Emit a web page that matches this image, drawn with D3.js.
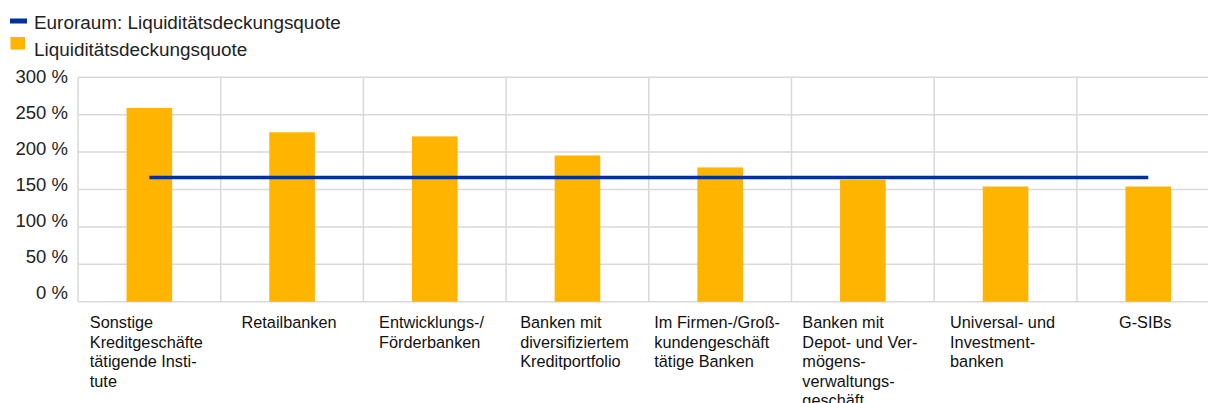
<!DOCTYPE html>
<meta charset="utf-8">
<script src="https://d3js.org/d3.v7.min.js"></script>
<style>
  body { margin: 0; background: #fff; }
  svg { display: block; font-family: "Liberation Sans", Arial, sans-serif; }
</style>
<body>
<div id="chart"></div>
<script>
// chart values
var categories = [
  "Sonstige\nKreditgeschäfte\ntätigende Insti-\ntute",
  "Retailbanken",
  "Entwicklungs-/\nFörderbanken",
  "Banken mit\ndiversifiziertem\nKreditportfolio",
  "Im Firmen-/Groß-\nkundengeschäft\ntätige Banken",
  "Banken mit\nDepot- und Ver-\nmögens-\nverwaltungs-\ngeschäft",
  "Universal- und\nInvestment-\nbanken",
  "G-SIBs"
];
var lcrValues = [259, 226.5, 221, 195.5, 179.5, 163, 154, 154];
var euroAreaValue = 166;
var yTicks = [0, 50, 100, 150, 200, 250, 300];
var legendLabels = ["Euroraum: Liquiditätsdeckungsquote", "Liquiditätsdeckungsquote"];

var width = 1208, height = 403;
var plotLeft = 78, plotTop = 77.3, plotBottom = 301.7, bandW = 142.7;

var orange = "#ffb400", blue = "#003299", grid = "#d9d9d9";

var svg = d3.select("#chart").append("svg")
  .attr("width", width)
  .attr("height", height);

var x = d3.scaleBand()
  .domain(categories)
  .range([plotLeft, plotLeft + bandW * categories.length])
  .padding(0);

var y = d3.scaleLinear()
  .domain([0, 300])
  .range([plotBottom, plotTop]);

// the tick labels in the original sit on a slightly tighter spacing than the grid
var yLabel = d3.scaleLinear()
  .domain([0, 300])
  .range([292.5, 76.7]);

// horizontal gridlines
svg.append("g").selectAll("line")
  .data(yTicks)
  .enter().append("line")
  .attr("x1", plotLeft).attr("x2", plotLeft + bandW * categories.length)
  .attr("y1", function (d) { return y(d); })
  .attr("y2", function (d) { return y(d); })
  .attr("stroke", grid).attr("stroke-width", 1.5);

// vertical gridlines at category boundaries
svg.append("g").selectAll("line")
  .data(categories)
  .enter().append("line")
  .attr("x1", function (d) { return x(d); })
  .attr("x2", function (d) { return x(d); })
  .attr("y1", plotTop).attr("y2", plotBottom)
  .attr("stroke", grid).attr("stroke-width", 1.5);

// y axis labels
var yAxis = d3.axisLeft(yLabel)
  .tickValues(yTicks)
  .tickSize(0)
  .tickPadding(10)
  .tickFormat(function (d) { return d + " %"; });

svg.append("g")
  .attr("transform", "translate(" + plotLeft + ",0)")
  .call(yAxis)
  .call(function (g) { g.select(".domain").remove(); })
  .selectAll("text")
  .style("font-family", "Liberation Sans, Arial, sans-serif")
  .style("font-size", "18.5px")
  .attr("fill", "#222");

// bars
var barW = 45.6;
svg.append("g").selectAll("rect")
  .data(lcrValues)
  .enter().append("rect")
  .attr("x", function (d, i) { return x(categories[i]) + x.bandwidth() / 2 - barW / 2; })
  .attr("y", function (d) { return y(d); })
  .attr("width", barW)
  .attr("height", function (d) { return y(0) - y(d); })
  .attr("fill", orange);

// euro area line
var first = categories[0], last = categories[categories.length - 1];
svg.append("line")
  .attr("x1", x(first) + x.bandwidth() / 2)
  .attr("x2", x(last) + x.bandwidth() / 2)
  .attr("y1", y(euroAreaValue))
  .attr("y2", y(euroAreaValue))
  .attr("stroke", blue)
  .attr("stroke-width", 3.5);

// category labels: left aligned lines, block centred under the band
var labels = svg.append("g").selectAll("text")
  .data(categories)
  .enter().append("text")
  .style("font-size", "16.3px")
  .attr("fill", "#111")
  .attr("y", 328);

labels.each(function (d) {
  var t = d3.select(this);
  d.split("\n").forEach(function (line, j) {
    t.append("tspan").attr("x", 0).attr("dy", j === 0 ? 0 : 19.6).text(line);
  });
  var w = this.getBBox().width;
  var x0 = x(d) + x.bandwidth() / 2 - w / 2 - 3;
  t.attr("transform", "translate(" + x0 + ",0)");
});

// legend
svg.append("rect")
  .attr("x", 10).attr("y", 18.5)
  .attr("width", 17).attr("height", 5)
  .attr("fill", blue);
svg.append("rect")
  .attr("x", 10.5).attr("y", 37)
  .attr("width", 14.5).attr("height", 12.5)
  .attr("fill", orange);

svg.append("g").selectAll("text")
  .data(legendLabels)
  .enter().append("text")
  .attr("x", 34)
  .attr("y", function (d, i) { return 29 + i * 27; })
  .style("font-size", "18.9px")
  .attr("fill", "#222")
  .text(function (d) { return d; });
</script>
</body>
